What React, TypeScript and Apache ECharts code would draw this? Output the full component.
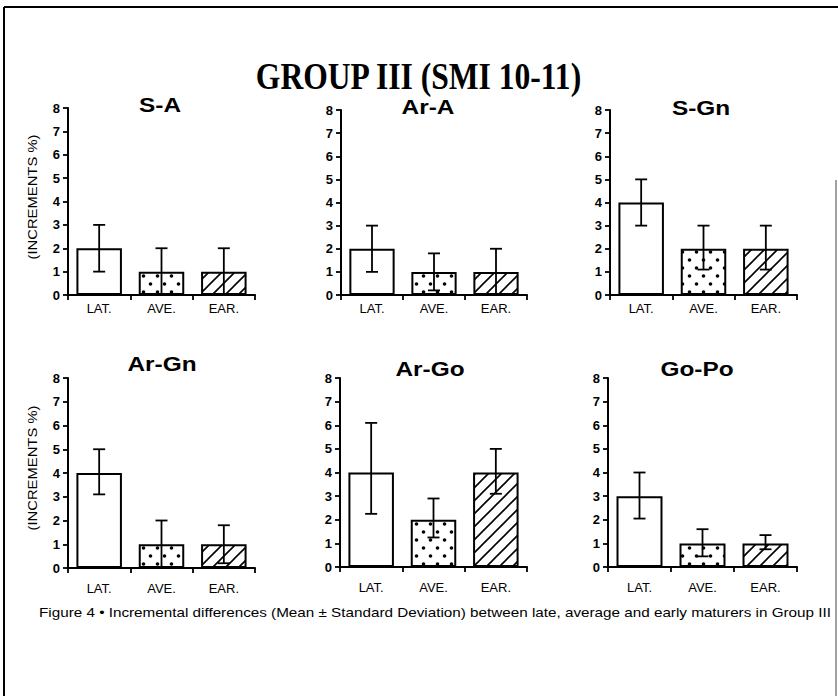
import React, { useEffect, useRef } from "react";
import * as echarts from "echarts";

// ---------- data ----------
const mainTitle = "GROUP III (SMI 10-11)";
const yAxisName = "(INCREMENTS %)";
const caption =
  "Figure 4 \u2022 Incremental differences (Mean \u00b1 Standard Deviation) between late, average and early maturers in Group III";
const categories = ["LAT.", "AVE.", "EAR."];
const panelTitles = ["S-A", "Ar-A", "S-Gn", "Ar-Gn", "Ar-Go", "Go-Po"];
const yMin = 0;
const yMax = 8;
const yInterval = 1;

const meansSA = [2, 1, 1];
const meansArA = [2, 1, 1];
const meansSGn = [4, 2, 2];
const meansArGn = [4, 1, 1];
const meansArGo = [4, 2, 4];
const meansGoPo = [3, 1, 1];

const lowerSA = [1, 0, 0];
const lowerArA = [1, 0.2, 0];
const lowerSGn = [3, 1.1, 1.1];
const lowerArGn = [3.1, 0, 0.2];
const lowerArGo = [2.25, 1.25, 3.1];
const lowerGoPo = [2.05, 0.45, 0.75];

const upperSA = [3, 2, 2];
const upperArA = [3, 1.8, 2];
const upperSGn = [5, 3, 3];
const upperArGn = [5, 2, 1.8];
const upperArGo = [6.1, 2.9, 5];
const upperGoPo = [4, 1.6, 1.35];

const means = [meansSA, meansArA, meansSGn, meansArGn, meansArGo, meansGoPo];
const lowers = [lowerSA, lowerArA, lowerSGn, lowerArGn, lowerArGo, lowerGoPo];
const uppers = [upperSA, upperArA, upperSGn, upperArGn, upperArGo, upperGoPo];

// ---------- layout ----------
const W = 838;
const H = 696;
const FONT = "'Liberation Sans', Arial, Helvetica, sans-serif";
const layouts = [
  { left: 68, top: 108, width: 187, height: 187, tx: 160, ty: 105, lm: 7 },
  { left: 341, top: 110, width: 186, height: 185, tx: 428, ty: 107, lm: 7 },
  { left: 610, top: 110, width: 187, height: 185, tx: 701, ty: 108, lm: 7 },
  { left: 68, top: 378, width: 187, height: 190, tx: 162, ty: 364, lm: 14 },
  { left: 340, top: 378, width: 187, height: 189, tx: 430, ty: 369, lm: 14 },
  { left: 608, top: 378, width: 189, height: 189, tx: 697, ty: 369, lm: 14 },
];
const yNamePos = [
  { x: 32, y: 197 },
  { x: 32, y: 468 },
];

function fitScale(text: string, font: string, target: number) {
  const ctx = document.createElement("canvas").getContext("2d")!;
  ctx.font = font;
  const w = ctx.measureText(text).width;
  return w > 0 ? target / w : 1;
}

function makeDots() {
  const c = document.createElement("canvas");
  c.width = 14;
  c.height = 16;
  const ctx = c.getContext("2d")!;
  ctx.fillStyle = "#fff";
  ctx.fillRect(0, 0, 14, 16);
  ctx.fillStyle = "#000";
  ctx.beginPath();
  ctx.arc(3.5, 4, 1.8, 0, Math.PI * 2);
  ctx.fill();
  ctx.beginPath();
  ctx.arc(10.5, 12, 1.8, 0, Math.PI * 2);
  ctx.fill();
  return c;
}

function makeHatch() {
  const s = 13;
  const c = document.createElement("canvas");
  c.width = s;
  c.height = s;
  const ctx = c.getContext("2d")!;
  ctx.fillStyle = "#fff";
  ctx.fillRect(0, 0, s, s);
  ctx.strokeStyle = "#000";
  ctx.lineWidth = 1.6;
  ctx.beginPath();
  ctx.moveTo(-1, s + 1);
  ctx.lineTo(s + 1, -1);
  ctx.moveTo(-2, 2);
  ctx.lineTo(2, -2);
  ctx.moveTo(s - 2, s + 2);
  ctx.lineTo(s + 2, s - 2);
  ctx.stroke();
  return c;
}

export default function App() {
  const ref = useRef<HTMLDivElement>(null);

  useEffect(() => {
    if (!ref.current) return;
    const chart = echarts.init(ref.current, undefined, { renderer: "svg", width: W, height: H });

    const dots = { image: makeDots(), repeat: "repeat", imageWidth: 14, imageHeight: 16 } as any;
    const hatch = { image: makeHatch(), repeat: "repeat", imageWidth: 13, imageHeight: 13 } as any;
    const fills: any[] = ["#fff", dots, hatch];

    const grid: any[] = [];
    const xAxis: any[] = [];
    const yAxis: any[] = [];
    const series: any[] = [];
    const graphic: any[] = [];

    layouts.forEach((L, i) => {
      grid.push({ left: L.left, top: L.top, width: L.width, height: L.height, containLabel: false });
      xAxis.push({
        type: "category",
        gridIndex: i,
        data: categories,
        axisLine: { lineStyle: { color: "#000", width: 2 } },
        axisTick: { show: true, length: 5, lineStyle: { color: "#000", width: 1.8 } },
        axisLabel: { color: "#000", fontSize: 13, fontFamily: FONT, margin: L.lm },
        splitLine: { show: false },
      });
      yAxis.push({
        type: "value",
        gridIndex: i,
        min: yMin,
        max: yMax,
        interval: yInterval,
        axisLine: { show: true, lineStyle: { color: "#000", width: 2 } },
        axisTick: { show: true, length: 5, lineStyle: { color: "#000", width: 1.8 } },
        axisLabel: { color: "#000", fontSize: 13, fontWeight: "bold", fontFamily: FONT, margin: 8 },
        splitLine: { show: false },
      });
      series.push({
        type: "bar",
        xAxisIndex: i,
        yAxisIndex: i,
        barWidth: "73%",
        silent: true,
        itemStyle: { borderColor: "#000", borderWidth: 2 },
        data: means[i].map((v, j) => ({ value: v, itemStyle: { color: fills[j], borderColor: "#000", borderWidth: 2 } })),
        z: 2,
      });
      series.push({
        type: "custom",
        xAxisIndex: i,
        yAxisIndex: i,
        silent: true,
        z: 5,
        encode: { x: 0, y: [1, 2] },
        data: categories.map((_, j) => [j, lowers[i][j], uppers[i][j]]),
        renderItem: (_p: any, api: any) => {
          const x = api.value(0);
          const a = api.coord([x, api.value(2)]);
          const b = api.coord([x, api.value(1)]);
          const hw = 6;
          const st = { stroke: "#000", lineWidth: 1.8 };
          return {
            type: "group",
            children: [
              { type: "line", shape: { x1: a[0], y1: a[1], x2: b[0], y2: b[1] }, style: st },
              { type: "line", shape: { x1: a[0] - hw, y1: a[1], x2: a[0] + hw, y2: a[1] }, style: st },
              { type: "line", shape: { x1: b[0] - hw, y1: b[1], x2: b[0] + hw, y2: b[1] }, style: st },
            ],
          };
        },
      });
      const tFont = `bold 20px ${FONT}`;
      graphic.push({
        type: "text",
        x: L.tx,
        y: L.ty,
        scaleX: 1.22,
        silent: true,
        style: { text: panelTitles[i], font: tFont, fill: "#000", textAlign: "center", textVerticalAlign: "middle" },
      });
    });

    // y axis names
    const nFont = `13px ${FONT}`;
    const nScale = fitScale(yAxisName, nFont, 125);
    yNamePos.forEach((p) => {
      graphic.push({
        type: "text",
        x: p.x,
        y: p.y,
        rotation: Math.PI / 2,
        scaleX: nScale,
        silent: true,
        style: { text: yAxisName, font: nFont, fill: "#000", textAlign: "center", textVerticalAlign: "middle" },
      });
    });

    // main title
    const mFont = `bold 38px 'Liberation Serif', 'Times New Roman', serif`;
    graphic.push({
      type: "text",
      x: 418.5,
      y: 76,
      scaleX: fitScale(mainTitle, mFont, 327),
      silent: true,
      style: { text: mainTitle, font: mFont, fill: "#000", textAlign: "center", textVerticalAlign: "middle" },
    });

    // caption
    const cFont = `13px ${FONT}`;
    graphic.push({
      type: "text",
      x: 39,
      y: 612,
      scaleX: fitScale(caption, cFont, 793),
      silent: true,
      style: { text: caption, font: cFont, fill: "#000", textAlign: "left", textVerticalAlign: "middle" },
    });

    // frame lines
    graphic.push({ type: "line", silent: true, shape: { x1: 4, y1: 7, x2: 838, y2: 7 }, style: { stroke: "#000", lineWidth: 2 } });
    graphic.push({ type: "line", silent: true, shape: { x1: 4, y1: 7, x2: 4, y2: 696 }, style: { stroke: "#000", lineWidth: 2 } });
    graphic.push({ type: "line", silent: true, shape: { x1: 836, y1: 180, x2: 836, y2: 696 }, style: { stroke: "#444", lineWidth: 1 } });

    chart.setOption({
      animation: false,
      backgroundColor: "#fff",
      grid,
      xAxis,
      yAxis,
      series,
      graphic,
    });

    return () => chart.dispose();
  }, []);

  return (
    <div
      ref={ref}
      style={{ position: "fixed", left: 0, top: 0, width: W, height: H, background: "#fff" }}
    />
  );
}
